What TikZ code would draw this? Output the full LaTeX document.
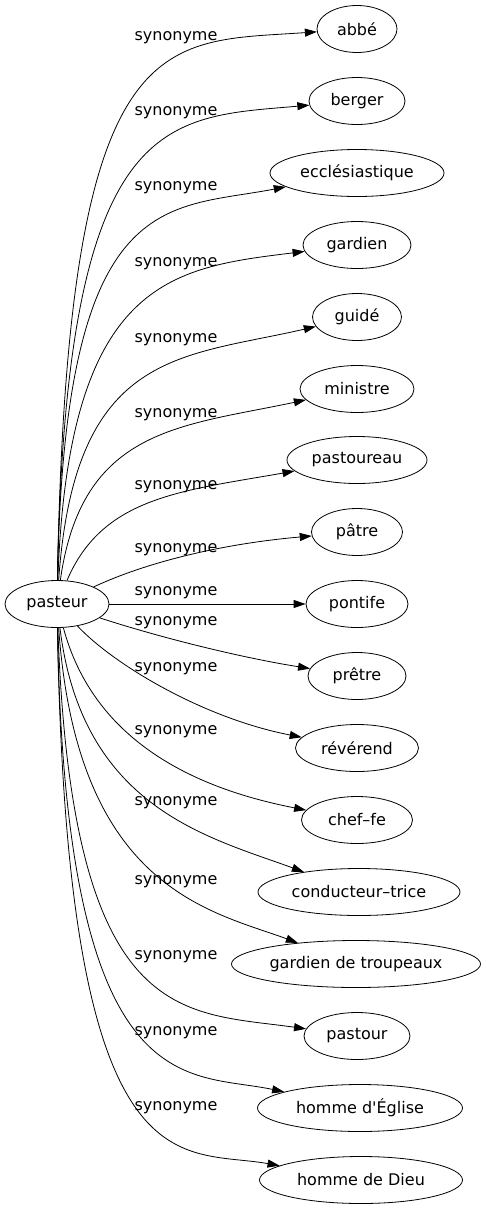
\documentclass[tikz,border=0pt]{standalone}
\usepackage{fontspec}
\setmainfont{DejaVu Sans}
\usetikzlibrary{arrows.meta,shapes.geometric}

\begin{document}
\begin{tikzpicture}[x=1pt,y=1pt,>={Triangle[length=12pt,width=8pt]},line width=0.8pt,
  word/.style={draw,ellipse,inner sep=0pt,minimum height=47pt,font=\fontsize{16}{19}\selectfont},
  syn/.style={inner sep=0pt,font=\fontsize{16}{19}\selectfont}]
\useasboundingbox (0,0) rectangle (486,-1211);
\node[word, minimum width=104pt] (pasteur) at (57,-604) {pasteur};
\node[word, minimum width=80pt] (abbe) at (357,-29) {abbé};
\node[word, minimum width=96pt] (berger) at (357,-101) {berger};
\node[word, minimum width=174pt] (ecclesiastique) at (357,-173) {ecclésiastique};
\node[word, minimum width=108pt] (gardien) at (357,-245) {gardien};
\node[word, minimum width=89pt] (guide) at (357,-317) {guidé};
\node[word, minimum width=114pt] (ministre) at (357,-389) {ministre};
\node[word, minimum width=140pt] (pastoureau) at (357,-460) {pastoureau};
\node[word, minimum width=91pt] (patre) at (357,-532) {pâtre};
\node[word, minimum width=102pt] (pontife) at (357,-604) {pontife};
\node[word, minimum width=98pt] (pretre) at (357,-676) {prêtre};
\node[word, minimum width=123pt] (reverend) at (357,-748) {révérend};
\node[word, minimum width=111pt] (cheffe) at (357,-820) {chef–fe};
\node[word, minimum width=202pt] (conducteur) at (359,-892) {conducteur–trice};
\node[word, minimum width=249pt] (gardientroupeaux) at (356,-964) {gardien de troupeaux};
\node[word, minimum width=106pt] (pastour) at (357,-1036) {pastour};
\node[word, minimum width=205pt] (hommeeglise) at (360,-1108) {homme d\textquotesingle Église};
\node[word, minimum width=203pt] (hommedieu) at (361,-1180) {homme de Dieu};
% labels
\node[syn] (synabbe) at (176,-38) {synonyme};
\node[syn] (synberger) at (176,-113) {synonyme};
\node[syn] (synecclesiastique) at (176,-188) {synonyme};
\node[syn] (syngardien) at (176,-264) {synonyme};
\node[syn] (synguide) at (176,-340) {synonyme};
\node[syn] (synministre) at (176,-415) {synonyme};
\node[syn] (synpastoureau) at (176,-487) {synonyme};
\node[syn] (synpatre) at (176,-550) {synonyme};
\node[syn] (synpontife) at (176,-593) {synonyme};
\node[syn] (synpretre) at (176,-623) {synonyme};
\node[syn] (synreverend) at (176,-669) {synonyme};
\node[syn] (syncheffe) at (176,-732) {synonyme};
\node[syn] (synconducteur) at (176,-803) {synonyme};
\node[syn] (syngardientroupeaux) at (176,-882) {synonyme};
\node[syn] (synpastour) at (176,-957) {synonyme};
\node[syn] (synhommeeglise) at (176,-1033) {synonyme};
\node[syn] (synhommedieu) at (176,-1108) {synonyme};
% edges
\draw[->] (pasteur) to[out=89, in=184, out distance=560pt, in distance=157pt] (abbe);
\draw[->] (pasteur) to[out=89, in=185, out distance=470pt, in distance=145pt] (berger);
\draw[->] (pasteur) to[out=89, in=191, out distance=395pt, in distance=122pt] (ecclesiastique);
\draw[->] (pasteur) to[out=88, in=187, out distance=301pt, in distance=134pt] (gardien);
\draw[->] (pasteur) to[out=86, in=193, out distance=231pt, in distance=139pt] (guide);
\draw[->] (pasteur) to[out=82, in=192, out distance=154pt, in distance=128pt] (ministre);
\draw[->] (pasteur) to[out=67, in=190, out distance=91pt, in distance=115pt] (pastoureau);
\draw[->] (pasteur) to[out=25, in=185, out distance=59pt, in distance=90pt] (patre);
\draw[->] (pasteur) -- (pontife);
\draw[->] (pasteur) to[out=-18, in=171, out distance=66pt, in distance=68pt] (pretre);
\draw[->] (pasteur) to[out=-47, in=169, out distance=51pt, in distance=102pt] (reverend);
\draw[->] (pasteur) to[out=-75, in=169, out distance=114pt, in distance=119pt] (cheffe);
\draw[->] (pasteur) to[out=-83, in=160, out distance=181pt, in distance=103pt] (conducteur);
\draw[->] (pasteur) to[out=-86, in=160, out distance=261pt, in distance=94pt] (gardientroupeaux);
\draw[->] (pasteur) to[out=-88, in=172, out distance=400pt, in distance=126pt] (pastour);
\draw[->] (pasteur) to[out=-89, in=168, out distance=480pt, in distance=100pt] (hommeeglise);
\draw[->] (pasteur) to[out=-89, in=170, out distance=570pt, in distance=103pt] (hommedieu);
\end{tikzpicture}
\end{document}
